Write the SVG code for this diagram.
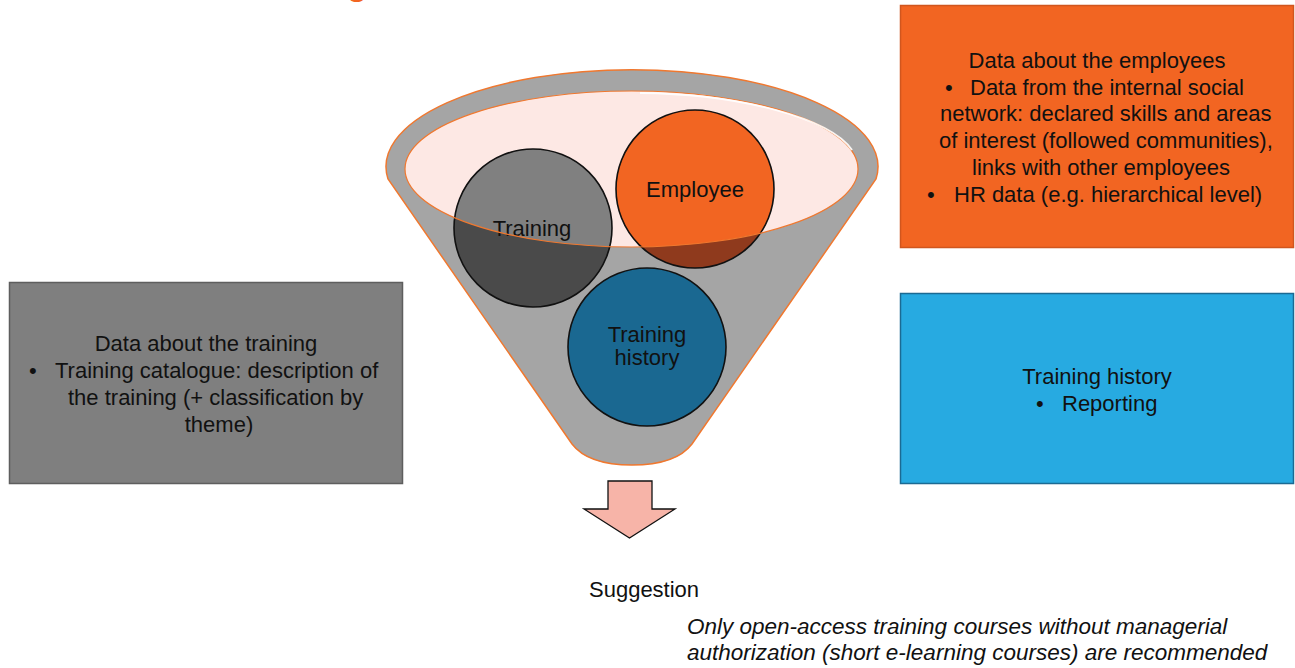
<svg xmlns="http://www.w3.org/2000/svg" width="1295" height="668" viewBox="0 0 1295 668">
  <defs>
    <style>
      .t { font-family: "Liberation Sans", Arial, sans-serif; font-size: 22px; fill: #111; }
      .c { text-anchor: middle; }
      .it { font-style: italic; font-size: 22.5px; }
      .circle-line { fill: none; stroke: #111; stroke-width: 1.6; }
    </style>
    <!-- inner rim of the funnel mouth -->
    <clipPath id="mouth">
      <ellipse cx="631.5" cy="169" rx="226.5" ry="78"/>
    </clipPath>
  </defs>

  <rect width="1295" height="668" fill="#ffffff"/>

  <!-- heading fragment along the top edge -->
  <text x="346" y="-6" font-family="Liberation Sans, Arial, sans-serif" font-size="40" fill="#f26522">g</text>

  <!-- funnel -->
  <g id="funnel">
    <path d="M388,179 A246,97 0 1 1 876,179 L692,444 C679,461 656,465 632,465 C608,465 585,461 572,444 Z"
          fill="#a5a5a5" stroke="#f0782f" stroke-width="1.5"/>
    <ellipse cx="631.5" cy="169" rx="226.5" ry="78" fill="#fde8e4"/>
  </g>

  <!-- Training -->
  <g id="training">
    <circle cx="533" cy="228" r="79" fill="#4a4a4a"/>
    <circle cx="533" cy="228" r="79" fill="#808080" clip-path="url(#mouth)"/>
    <circle cx="533" cy="228" r="79" class="circle-line"/>
    <text class="t c" x="532" y="236">Training</text>
  </g>

  <!-- Employee -->
  <g id="employee">
    <circle cx="695" cy="189" r="79" fill="#8f3a1d"/>
    <circle cx="695" cy="189" r="79" fill="#f26522" clip-path="url(#mouth)"/>
    <circle cx="695" cy="189" r="79" class="circle-line"/>
    <text class="t c" x="695" y="197">Employee</text>
  </g>

  <!-- Training history -->
  <g id="training-history">
    <circle cx="647" cy="347" r="79" fill="#1a6891"/>
    <circle cx="647" cy="347" r="79" class="circle-line"/>
    <text class="t c" x="647" y="342" font-size="21.5">Training</text>
    <text class="t c" x="647" y="365" font-size="21.5">history</text>
  </g>

  <!-- rim edge drawn over the circles -->
  <g id="rim">
    <ellipse cx="631.5" cy="169" rx="226.5" ry="78" fill="none" stroke="#f0782f" stroke-width="1.2"/>
    <path d="M640,93 C740,94 830,118 852,150" fill="none" stroke="#ffffff" stroke-width="2" opacity="0.9"/>
  </g>

  <!-- data about the employees -->
  <g id="employee-data">
    <rect x="900.5" y="5.5" width="393" height="242" fill="#f26522" stroke="#d0561e" stroke-width="1.5"/>
    <text class="t c" x="1097" y="68">Data about the employees</text>
    <text class="t" x="945" y="95">•</text>
    <text class="t" x="970" y="95">Data from the internal social</text>
    <text class="t" x="940" y="121">network: declared skills and areas</text>
    <text class="t" x="939" y="148">of interest (followed communities),</text>
    <text class="t" x="972" y="175">links with other employees</text>
    <text class="t" x="927" y="202">•</text>
    <text class="t" x="954" y="202">HR data (e.g. hierarchical level)</text>
  </g>

  <!-- data about the training -->
  <g id="training-data">
    <rect x="9.5" y="282.5" width="393" height="201" fill="#7f7f7f" stroke="#5e5e5e" stroke-width="1.5"/>
    <text class="t c" x="206" y="351">Data about the training</text>
    <text class="t" x="29" y="378">•</text>
    <text class="t" x="55" y="378">Training catalogue: description of</text>
    <text class="t" x="68" y="405">the training (+ classification by</text>
    <text class="t c" x="219" y="432">theme)</text>
  </g>

  <!-- training history reporting -->
  <g id="history-data">
    <rect x="900.5" y="293.5" width="393" height="190" fill="#27aae1" stroke="#1b6a93" stroke-width="1.5"/>
    <text class="t c" x="1097" y="384">Training history</text>
    <text class="t" x="1036" y="411">•</text>
    <text class="t" x="1062" y="411">Reporting</text>
  </g>

  <!-- output arrow -->
  <g id="connectors">
    <path d="M608,481 L652,481 L652,509 L675,509 L629.5,538 L584,509 L608,509 Z"
          fill="#f7b4a8" stroke="#111" stroke-width="1.3" stroke-linejoin="miter"/>
  </g>

  <g id="suggestion">
    <text class="t" x="589" y="597" font-size="20">Suggestion</text>
  </g>

  <g id="note">
    <text class="t it" x="687" y="634">Only open-access training courses without managerial</text>
    <text class="t it" x="687" y="660">authorization (short e-learning courses) are recommended</text>
  </g>
</svg>
